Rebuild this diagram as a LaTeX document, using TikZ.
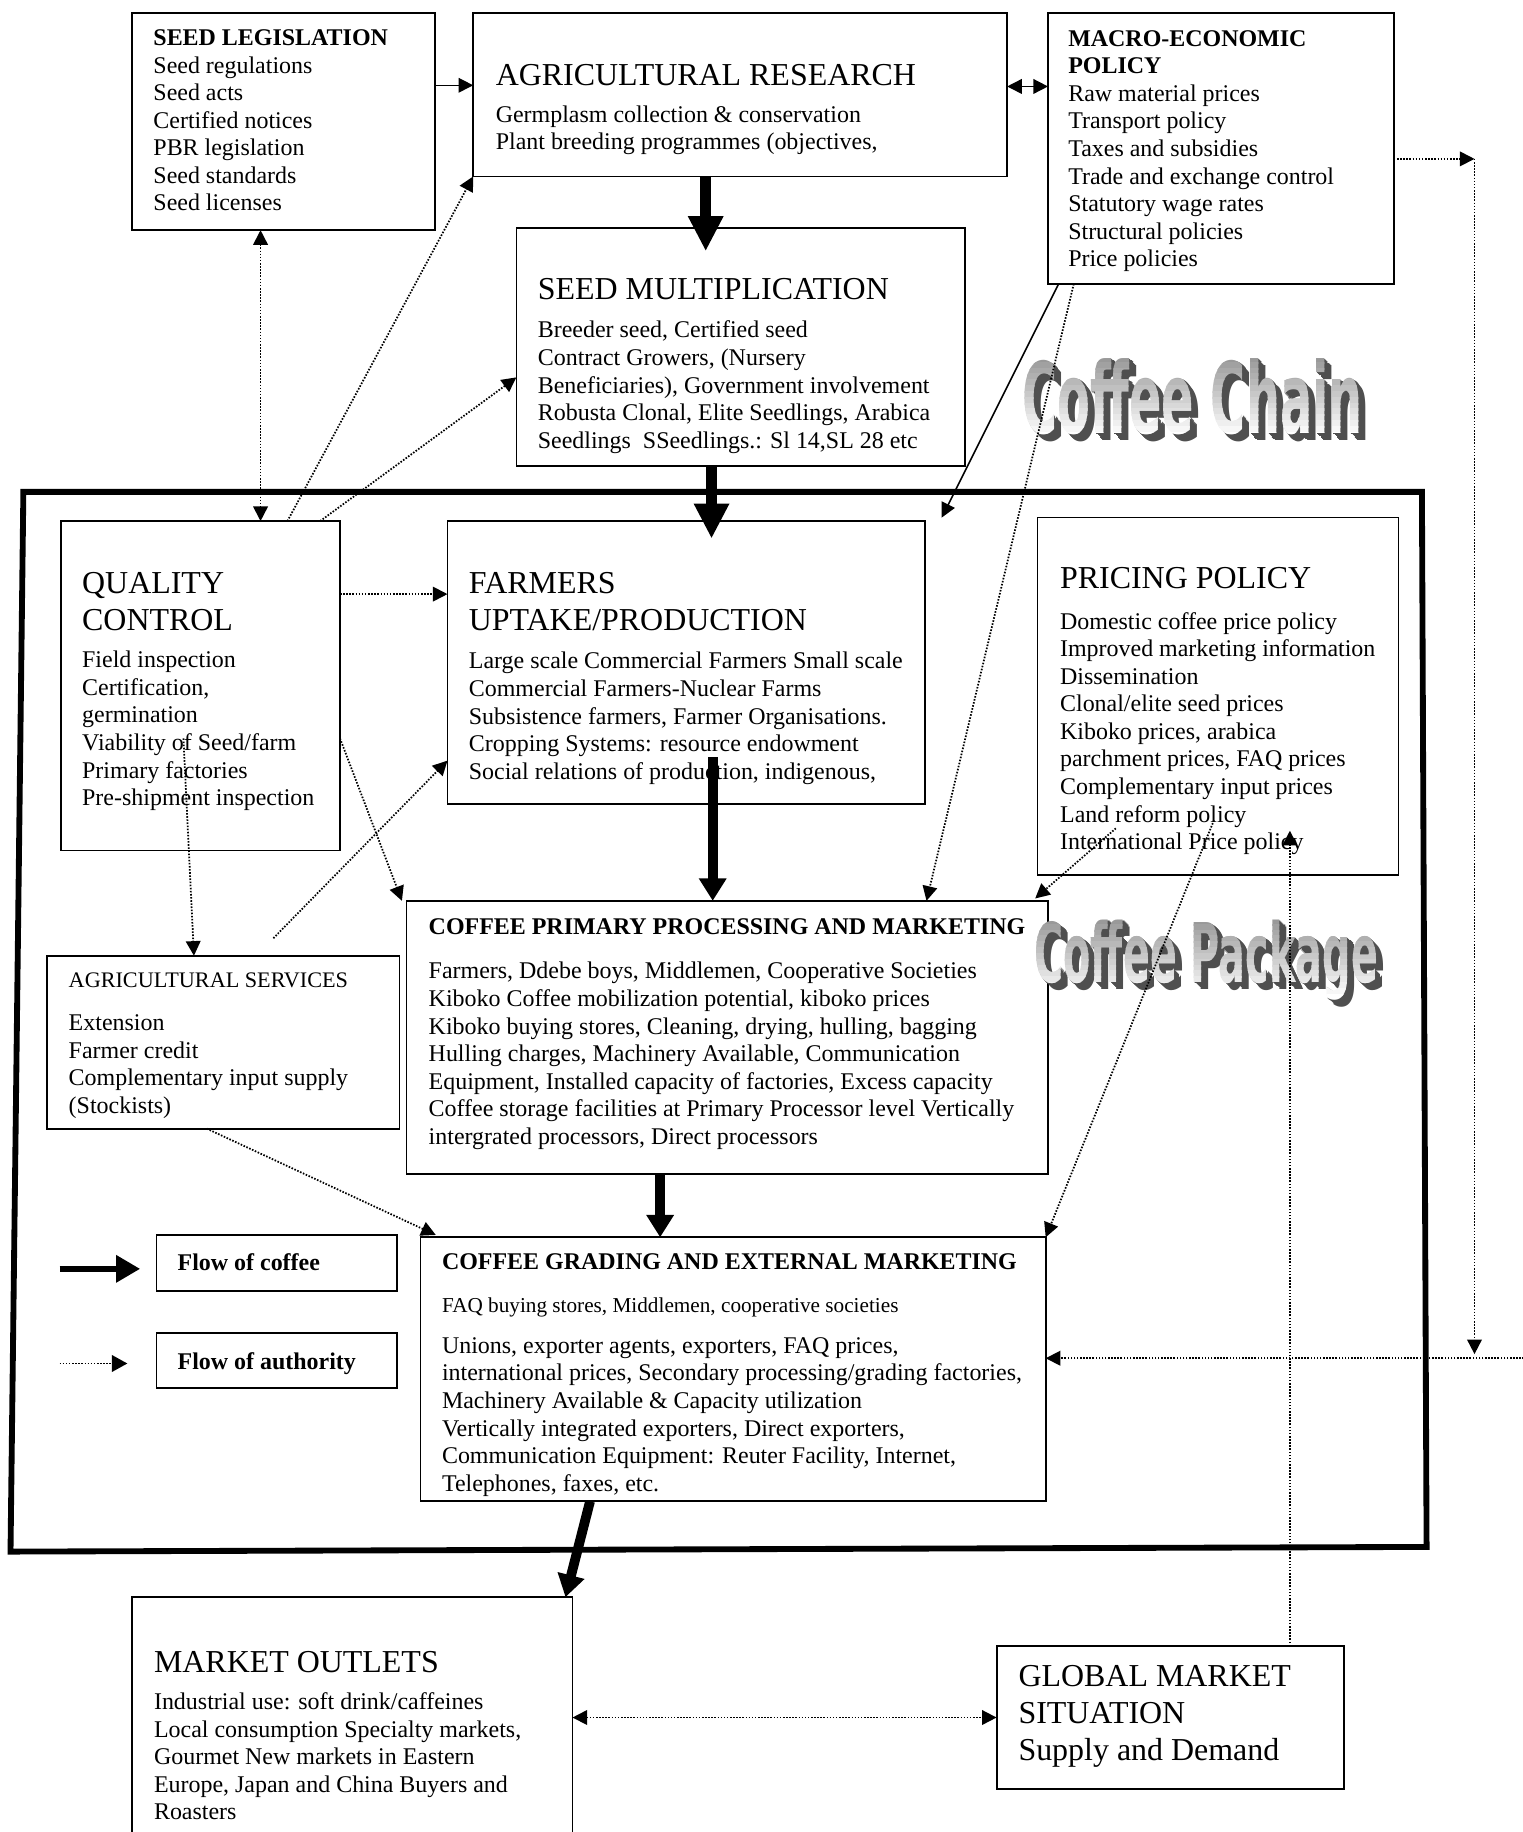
\documentclass[tikz,border=0pt]{standalone}
\usepackage{fontspec}
\usepackage{graphicx}
\setmainfont{Liberation Serif}
\newfontfamily\artfont{DejaVu Sans}
\usetikzlibrary{arrows.meta,fit}

\newcommand{\chainword}{\resizebox{174.6pt}{38.5pt}{\artfont\bfseries Coffee Chain}}
\newcommand{\packageword}{\resizebox{176.4pt}{32.1pt}{\artfont\bfseries Coffee Package}}

\tikzset{
  auth/.tip={Triangle[length=7.5pt,width=7.5pt]},
  box/.style={draw, line width=0.9pt, inner sep=0pt, outer sep=0pt},
  txt/.style={anchor=north west, align=left, inner sep=0pt, font=\fontsize{12.3}{14.15}\selectfont},
  head/.style={txt, font=\fontsize{16.4}{18.9}\selectfont},
  flow/.style={line width=5pt, -{Triangle[length=11.5pt,width=13.5pt]}},
  bigflow/.style={line width=5.5pt, -{Triangle[length=18pt,width=17pt]}},
  authority/.style={line width=0.9pt, dash pattern=on 0.8pt off 0.8pt},
  link/.style={line width=0.8pt},
  art/.style={anchor=base west, inner sep=0pt},
}

\begin{document}
\begin{tikzpicture}[x=0.6pt,y=-0.6pt]
\useasboundingbox (0,0) rectangle (1303,1568);
\draw[line width=3pt] (20,421) -- (1217,421) -- (1221,1324) -- (9,1328) -- cycle;

\node[box, fit={(113,11) (372,197)}] (seedleg) {};
\node[box, fit={(405,11) (862,151)}] (agres) {};
\node[box, fit={(897,11) (1193,243)}] (macro) {};
\node[box, fit={(442,195) (826,399)}] (seedmult) {};
\node[box, fit={(52,446) (291,728)}] (quality) {};
\node[box, fit={(383,446) (792,688)}] (farmers) {};
\node[box, fit={(888,443) (1197,749)}] (pricing) {};
\node[box, fit={(348,771) (897,1005)}] (primary) {};
\node[box, fit={(40,818) (342,966)}] (agserv) {};
\node[box, fit={(360,1059) (895,1285)}] (grading) {};
\node[box, fit={(134,1057) (340,1105)}] (key1) {};
\node[box, fit={(134,1141) (340,1188)}] (key2) {};
\node[box, fit={(113,1367) (490,1580)}] (market) {};
\node[box, fit={(853,1409) (1150,1531)}] (global) {};

\node[txt] (seedlegtxt) at ([shift={(18,14)}]seedleg.north west) {\textbf{SEED LEGISLATION}\\Seed regulations\\Seed acts\\Certified notices\\PBR legislation\\Seed standards\\Seed licenses};
\node[head] (agreshead) at ([shift={(19,43.5)}]agres.north west) {AGRICULTURAL RESEARCH};
\node[txt] (agrestxt) at ([shift={(19,79)}]agres.north west) {Germplasm collection \& conservation\\Plant breeding programmes (objectives,};
\node[txt] (macrotxt) at ([shift={(17,14.7)}]macro.north west) {\textbf{MACRO-ECONOMIC}\\\textbf{POLICY}\\Raw material prices\\Transport policy\\Taxes and subsidies\\Trade and exchange control\\Statutory wage rates\\Structural policies\\Price policies};
\node[head] (seedmulthead) at ([shift={(18,43)}]seedmult.north west) {SEED MULTIPLICATION};
\node[txt] (seedmulttxt) at ([shift={(18,79.5)}]seedmult.north west) {Breeder seed, Certified seed\\Contract Growers, (Nursery\\Beneficiaries), Government involvement\\Robusta Clonal, Elite Seedlings, Arabica\\Seedlings\ \ SSeedlings.: Sl 14,SL 28 etc};
\node[head] (qualityhead) at ([shift={(18,43.3)}]quality.north west) {QUALITY\\CONTROL};
\node[txt] (qualitytxt) at ([shift={(18,111)}]quality.north west) {Field inspection\\Certification,\\germination\\Viability of Seed/farm\\Primary factories\\Pre-shipment inspection};
\node[head] (farmershead) at ([shift={(18,43.4)}]farmers.north west) {FARMERS\\UPTAKE/PRODUCTION};
\node[txt] (farmerstxt) at ([shift={(18,112)}]farmers.north west) {Large scale Commercial Farmers Small scale\\Commercial Farmers-Nuclear Farms\\Subsistence farmers, Farmer Organisations.\\Cropping Systems: resource endowment\\Social relations of production, indigenous,};
\node[head] (pricinghead) at ([shift={(19,42.2)}]pricing.north west) {PRICING POLICY};
\node[txt] (pricingtxt) at ([shift={(19,80.7)}]pricing.north west) {Domestic coffee price policy\\Improved marketing information\\Dissemination\\Clonal/elite seed prices\\Kiboko prices, arabica\\parchment prices, FAQ prices\\Complementary input prices\\Land reform policy\\International Price policy};
\node[txt] (primaryhead) at ([shift={(18.6,15.2)}]primary.north west) {\textbf{COFFEE PRIMARY PROCESSING AND MARKETING}};
\node[txt] (primarytxt) at ([shift={(18.6,52.3)}]primary.north west) {Farmers, Ddebe boys, Middlemen, Cooperative Societies\\Kiboko Coffee mobilization potential, kiboko prices\\Kiboko buying stores, Cleaning, drying, hulling, bagging\\Hulling charges, Machinery Available, Communication\\Equipment, Installed capacity of factories, Excess capacity\\Coffee storage facilities at Primary Processor level Vertically\\intergrated processors, Direct processors};
\node[txt, font=\fontsize{11.4}{13}\selectfont] (agservhead) at ([shift={(18.5,14.4)}]agserv.north west) {AGRICULTURAL SERVICES};
\node[txt] (agservtxt) at ([shift={(18.5,50.4)}]agserv.north west) {Extension\\Farmer credit\\Complementary input supply\\(Stockists)};
\node[txt] (gradinghead) at ([shift={(18,14)}]grading.north west) {\textbf{COFFEE GRADING AND EXTERNAL MARKETING}};
\node[txt, font=\fontsize{10.9}{12.5}\selectfont] (gradingsub) at ([shift={(18,51.2)}]grading.north west) {FAQ buying stores, Middlemen, cooperative societies};
\node[txt] (gradingtxt) at ([shift={(18,85.4)}]grading.north west) {Unions, exporter agents, exporters, FAQ prices,\\international prices, Secondary processing/grading factories,\\Machinery Available \& Capacity utilization\\Vertically integrated exporters, Direct exporters,\\Communication Equipment: Reuter Facility, Internet,\\Telephones, faxes, etc.};
\node[txt] (key1txt) at ([shift={(17.7,16)}]key1.north west) {\textbf{Flow of coffee}};
\node[txt] (key2txt) at ([shift={(17.7,16.2)}]key2.north west) {\textbf{Flow of authority}};
\node[head] (markethead) at ([shift={(18.5,45.7)}]market.north west) {MARKET OUTLETS};
\node[txt] (markettxt) at ([shift={(18.5,81.4)}]market.north west) {Industrial use: soft drink/caffeines\\Local consumption Specialty markets,\\Gourmet New markets in Eastern\\Europe, Japan and China Buyers and\\Roasters};
\node[head] (globaltxt) at ([shift={(18.4,16.3)}]global.north west) {GLOBAL MARKET\\SITUATION\\Supply and Demand};

\coordinate (chainpos) at (875,371);
\coordinate (packagepos) at (885,840.5);
\foreach \d in {6,5,...,1} {
  \node[art, text=black!69] (chainsh\d) at ([shift={(\d,\d)}]chainpos) {\chainword};
  \node[art, text=black!69] (packagesh\d) at ([shift={(\d,\d)}]packagepos) {\packageword};
}
\foreach \i in {0,...,13} {
  \pgfmathsetmacro\g{40-40*\i/13}
  \begin{scope}
    \clip (860,{305+5*\i}) rectangle (1190,{311+5*\i});
    \node[art, text=black!\g] (chain\i) at (chainpos) {\chainword};
  \end{scope}
  \begin{scope}
    \clip (870,{786+5*\i}) rectangle (1195,{792+5*\i});
    \node[art, text=black!\g] (package\i) at (packagepos) {\packageword};
  \end{scope}
}

\draw[link, -auth] ([shift={(0,62)}]seedleg.north east) -- ([shift={(0,62)}]agres.north west);
\draw[link, auth-auth] ([shift={(0,63)}]agres.north east) -- ([shift={(0,63)}]macro.north west);
\draw[bigflow] ([shift={(-29.5,0)}]agres.south) -- ([shift={(-30,20)}]seedmult.north);
\draw[bigflow] ([shift={(-25,0)}]seedmult.south) -- ([shift={(21.5,15)}]farmers.north);
\draw[flow] ([shift={(22.5,-40)}]farmers.south) -- ([shift={(-12.5,0)}]primary.north);
\draw[flow] ([shift={(-57.5,0)}]primary.south) -- ([shift={(-62.5,0)}]grading.north);
\draw[flow] ([shift={(-122.5,0)}]grading.south) -- ([shift={(-6,0)}]market.north east);
\draw[line width=3.3pt, -{Triangle[length=12.4pt,width=13.4pt]}] ([shift={(-83,5)}]key1.west) -- ([shift={(-14,5)}]key1.west);
\draw[authority, -{Triangle[length=8pt,width=8.6pt]}] ([shift={(-83,2.5)}]key2.west) -- ([shift={(-25,2.5)}]key2.west);

\draw[authority, auth-auth] ([shift={(-19.5,0)}]seedleg.south) -- ([shift={(51.5,0)}]quality.north);
\draw[authority, -auth] ([shift={(74.5,0)}]quality.north) -- (agres.south west);
\draw[authority, -auth] ([shift={(102.5,0)}]quality.north) -- ([shift={(0,26)}]seedmult.west);
\draw[authority, -auth] ([shift={(0,-78.5)}]quality.east) -- ([shift={(0,-58.5)}]farmers.west);
\draw[authority, -auth] ([shift={(0,45)}]quality.east) -- ([shift={(-4,0)}]primary.north west);
\coordinate (servtop) at ([shift={(194,-15)}]agserv.north west);
\draw[authority, -auth] (servtop) -- ([shift={(0,84)}]farmers.west);
\draw[authority, -auth] ([shift={(-14.5,-96)}]quality.south) -- ([shift={(-25,0)}]agserv.north);
\draw[authority, -auth] ([shift={(-14,0)}]agserv.south) -- ([shift={(13,-2)}]grading.north west);
\draw[link, -auth] ([shift={(9,0)}]macro.south west) -- ([shift={(14,-3)}]farmers.north east);
\draw[authority, -auth] ([shift={(22,0)}]macro.south west) -- ([shift={(170.5,0)}]primary.north);
\draw[authority, -auth] ([shift={(67,-40)}]pricing.south west) -- ([shift={(-11,-2)}]primary.north east);
\draw[authority, -auth] ([shift={(151,-47)}]pricing.south west) -- (grading.north east);
\draw[authority, -auth] ([shift={(102.5,0)}]global.north) -- ([shift={(61.5,-38)}]pricing.south);
\coordinate (macroout) at ([shift={(69,9)}]macro.east);
\coordinate (gradein) at ([shift={(420,-9.5)}]grading.east);
\draw[authority, -auth] ([shift={(0,9)}]macro.east) -- (macroout);
\draw[authority, -auth] (macroout) -- ([shift={(367,-13)}]grading.east);
\draw[authority, -auth] (gradein) -- ([shift={(0,-9.5)}]grading.east);
\draw[authority, auth-auth] (market.east |- global.west) -- (global.west);
\end{tikzpicture}
\end{document}
